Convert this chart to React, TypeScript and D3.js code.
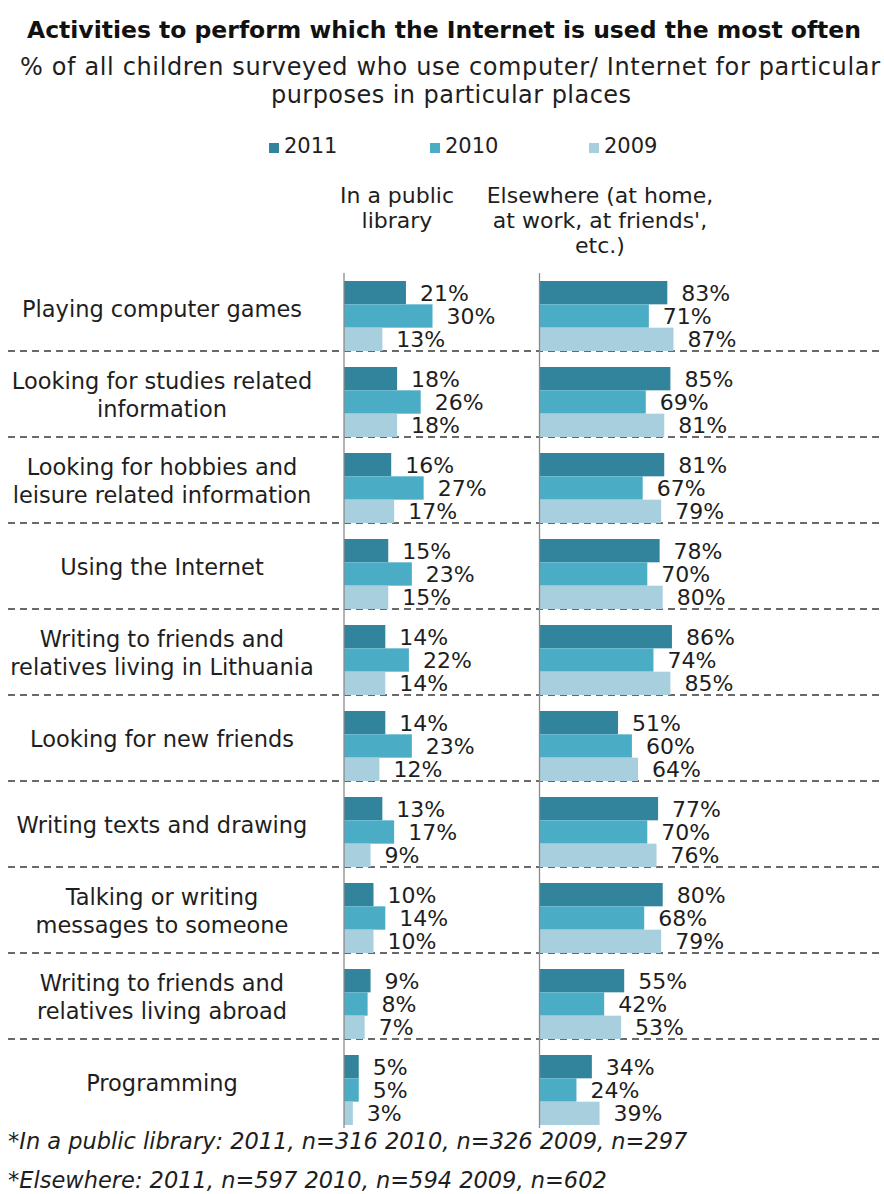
import React from "react";
import * as d3 from "d3";

const categories: string[][] = [
  ["Playing computer games"],
  ["Looking for studies related", "information"],
  ["Looking for hobbies and", "leisure related information"],
  ["Using the Internet"],
  ["Writing to friends and", "relatives living in Lithuania"],
  ["Looking for new friends"],
  ["Writing texts and drawing"],
  ["Talking or writing", "messages to someone"],
  ["Writing to friends and", "relatives living abroad"],
  ["Programming"],
];

const years = ["2011", "2010", "2009"];
const yearColors = ["#31849b", "#4bacc6", "#a8cfdd"];

// In a public library, per category
const library2011 = [21, 18, 16, 15, 14, 14, 13, 10, 9, 5];
const library2010 = [30, 26, 27, 23, 22, 23, 17, 14, 8, 5];
const library2009 = [13, 18, 17, 15, 14, 12, 9, 10, 7, 3];

// Elsewhere, per category
const elsewhere2011 = [83, 85, 81, 78, 86, 51, 77, 80, 55, 34];
const elsewhere2010 = [71, 69, 67, 70, 74, 60, 70, 68, 42, 24];
const elsewhere2009 = [87, 81, 79, 80, 85, 64, 76, 79, 53, 39];

const title = "Activities to perform which the Internet is used the most often";
const subtitle = [
  "% of all children surveyed who use computer/ Internet for particular",
  "purposes in particular places",
];
const panelHeaders = [
  ["In a public", "library"],
  ["Elsewhere (at home,", "at work, at friends',", "etc.)"],
];
const footnotes = [
  "*In a public library: 2011, n=316 2010, n=326 2009, n=297",
  "*Elsewhere: 2011, n=597 2010, n=594 2009, n=602",
];

const FONT = "DejaVu Sans, Verdana, sans-serif";
const TEXT = "#1e1e1e";

export default function App() {
  const W = 884;
  const H = 1194;
  const keys = categories.map((c) => c.join(" "));
  const libSeries = [library2011, library2010, library2009];
  const elseSeries = [elsewhere2011, elsewhere2010, elsewhere2009];

  const y = d3
    .scaleBand<string>()
    .domain(keys)
    .range([281, 1125])
    .paddingInner(16 / 86)
    .paddingOuter(0);
  const yInner = d3.scaleBand<string>().domain(years).range([0, y.bandwidth()]);

  const libX0 = 344;
  const elseX0 = 539.5;
  const xLib = d3.scaleLinear().domain([0, 100]).range([libX0, libX0 + 295]);
  const xElse = d3.scaleLinear().domain([0, 100]).range([elseX0, elseX0 + 154]);

  const panels = [
    { x: xLib, series: libSeries },
    { x: xElse, series: elseSeries },
  ];

  const legendX = [269, 430, 589];

  return (
    <svg
      width={W}
      height={H}
      style={{ position: "absolute", left: 0, top: 0, background: "#fff" }}
      fontFamily={FONT}
    >
      <rect x={0} y={0} width={W} height={H} fill="#fff" />
      <text
        x={444}
        y={38}
        textAnchor="middle"
        fontWeight="bold"
        fontSize={23.5}
        fill="#111"
        textLength={834}
        lengthAdjust="spacing"
      >
        {title}
      </text>
      <text
        x={450}
        y={75}
        textAnchor="middle"
        fontSize={24}
        fill={TEXT}
        textLength={860}
        lengthAdjust="spacing"
      >
        {subtitle[0]}
      </text>
      <text
        x={451}
        y={103}
        textAnchor="middle"
        fontSize={24}
        fill={TEXT}
        textLength={360}
        lengthAdjust="spacing"
      >
        {subtitle[1]}
      </text>

      {years.map((yr, i) => (
        <g key={yr}>
          <rect x={legendX[i]} y={143} width={10} height={10} fill={yearColors[i]} />
          <text x={legendX[i] + 15} y={153} fontSize={21} fill={TEXT}>
            {yr}
          </text>
        </g>
      ))}

      {panelHeaders.map((lines, p) =>
        lines.map((l, i) => (
          <text
            key={`${p}-${i}`}
            x={p === 0 ? 397 : 600}
            y={203 + i * 25}
            textAnchor="middle"
            fontSize={22}
            fill={TEXT}
          >
            {l}
          </text>
        ))
      )}

      {/* dashed separators */}
      {keys.slice(0, keys.length - 1).map((k) => (
        <line
          key={k}
          x1={8}
          x2={W}
          y1={(y(k) as number) + y.bandwidth()}
          y2={(y(k) as number) + y.bandwidth()}
          stroke="#3a3a3a"
          strokeWidth={1.6}
          strokeDasharray="7,5"
        />
      ))}

      {/* bars */}
      {panels.map((panel, p) =>
        keys.map((k, ci) =>
          years.map((yr, si) => {
            const v = panel.series[si][ci];
            const y0 = (y(k) as number) + (yInner(yr) as number);
            const x0 = panel.x(0);
            const x1 = panel.x(v);
            return (
              <g key={`${p}-${ci}-${si}`}>
                <rect
                  x={x0}
                  y={y0}
                  width={x1 - x0}
                  height={yInner.bandwidth()}
                  fill={yearColors[si]}
                />
                <text
                  x={x1 + 14}
                  y={y0 + yInner.bandwidth() / 2 + 8}
                  fontSize={22}
                  fill={TEXT}
                >
                  {v}%
                </text>
              </g>
            );
          })
        )
      )}

      {/* axis lines */}
      {[libX0, elseX0].map((ax) => (
        <line key={ax} x1={ax} x2={ax} y1={273} y2={1128} stroke="#8a8a8a" strokeWidth={1.3} />
      ))}

      {/* category labels */}
      {categories.map((lines, ci) => {
        const cy = (y(keys[ci]) as number) + y.bandwidth() / 2;
        const base = lines.length === 1 ? [cy + 1] : [cy - 13, cy + 15];
        return lines.map((l, li) => (
          <text
            key={`${ci}-${li}`}
            x={162}
            y={base[li]}
            textAnchor="middle"
            fontSize={22.5}
            fill={TEXT}
          >
            {l}
          </text>
        ));
      })}

      {footnotes.map((f, i) => (
        <text
          key={i}
          x={8}
          y={1149 + i * 39}
          fontSize={22.5}
          fontStyle="italic"
          fill={TEXT}
        >
          {f}
        </text>
      ))}
    </svg>
  );
}
